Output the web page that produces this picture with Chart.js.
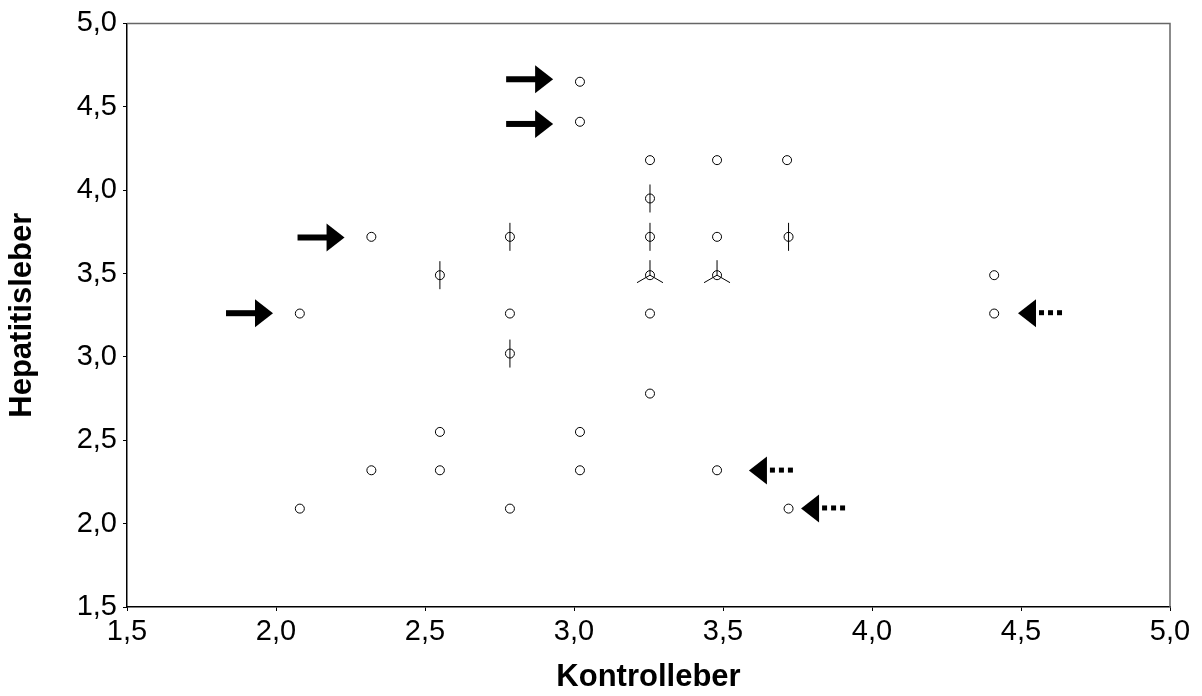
<!DOCTYPE html>
<html>
<head>
<meta charset="utf-8">
<script src="https://cdn.jsdelivr.net/npm/chart.js@4.4.1/dist/chart.umd.min.js"></script>
<style>
  html, body { margin: 0; padding: 0; background: #fff; }
  #wrap { width: 1202px; height: 696px; }
</style>
</head>
<body>
<div id="wrap"><canvas id="chart"></canvas></div>
<script>
// Kontrolleber (x), Hepatitisleber (y), number of cases at that point (sunflower petals)
const kontrolle = [3.02, 3.02, 3.255, 3.48, 3.715, 3.255, 2.32, 2.785, 3.255, 3.48, 3.72,
  2.55, 3.255, 3.48, 4.41, 2.08, 2.785, 3.255, 4.41, 2.785, 3.255, 2.55, 3.02,
  2.32, 2.55, 3.02, 3.48, 2.08, 2.785, 3.72];
const hepatitis = [4.65, 4.41, 4.18, 4.18, 4.18, 3.95, 3.72, 3.72, 3.72, 3.72, 3.72,
  3.49, 3.49, 3.49, 3.49, 3.26, 3.26, 3.26, 3.26, 3.02, 2.78, 2.55, 2.55,
  2.32, 2.32, 2.32, 2.32, 2.09, 2.09, 2.09];
const counts = [1, 1, 1, 1, 1, 2, 1, 2, 2, 1, 2,
  2, 3, 3, 1, 1, 1, 1, 1, 2, 1, 1, 1,
  1, 1, 1, 1, 1, 1, 1];

// annotation arrows: tip position, direction (solid right, dotted left)
const arrowX = [2.93, 2.93, 2.23, 1.99, 4.49, 3.587, 3.762];
const arrowY = [4.665, 4.397, 3.716, 3.262, 3.262, 2.318, 2.091];
const arrowDir = ['right', 'right', 'right', 'right', 'left', 'left', 'left'];

const tickValues = [1.5, 2.0, 2.5, 3.0, 3.5, 4.0, 4.5, 5.0];

const points = kontrolle.map((x, i) => ({ x: x, y: hepatitis[i] }));
const fmt = v => Number(v).toFixed(1).replace('.', ',');
const FONT = 'Liberation Sans, Arial, sans-serif';

const sunflowerPlugin = {
  id: 'sunflower',
  afterDatasetsDraw(chart) {
    const ctx = chart.ctx;
    const xs = chart.scales.x, ys = chart.scales.y;
    ctx.save();
    ctx.strokeStyle = '#000';
    ctx.lineWidth = 1;
    counts.forEach((n, i) => {
      if (n < 2) return;
      const cx = xs.getPixelForValue(kontrolle[i]);
      const cy = ys.getPixelForValue(hepatitis[i]);
      ctx.beginPath();
      if (n === 2) {
        ctx.moveTo(cx, cy - 14);
        ctx.lineTo(cx, cy + 14);
      } else {
        for (let k = 0; k < n; k++) {
          const a = -Math.PI / 2 + k * 2 * Math.PI / n;
          ctx.moveTo(cx, cy);
          ctx.lineTo(cx + 15 * Math.cos(a), cy + 15 * Math.sin(a));
        }
      }
      ctx.stroke();
    });
    ctx.restore();
  }
};

const framePlugin = {
  id: 'frame',
  beforeDatasetsDraw(chart) {
    const { ctx, chartArea: a } = chart;
    ctx.save();
    ctx.strokeStyle = '#666';
    ctx.lineWidth = 1.5;
    ctx.beginPath();
    ctx.moveTo(a.left, a.top);
    ctx.lineTo(a.right, a.top);
    ctx.lineTo(a.right, a.bottom);
    ctx.stroke();
    ctx.restore();
  }
};

const arrowPlugin = {
  id: 'arrows',
  afterDraw(chart) {
    const ctx = chart.ctx;
    const xs = chart.scales.x, ys = chart.scales.y;
    ctx.save();
    ctx.fillStyle = '#000';
    arrowX.forEach((v, i) => {
      const tx = xs.getPixelForValue(v);
      const ty = ys.getPixelForValue(arrowY[i]);
      const s = arrowDir[i] === 'right' ? -1 : 1;
      // head
      ctx.beginPath();
      ctx.moveTo(tx, ty);
      ctx.lineTo(tx + s * 18, ty - 14);
      ctx.lineTo(tx + s * 18, ty + 14);
      ctx.closePath();
      ctx.fill();
      if (arrowDir[i] === 'right') {
        ctx.fillRect(tx - 47, ty - 3, 30, 6);
      } else {
        for (let d = 0; d < 3; d++) {
          ctx.fillRect(tx + 21 + d * 9, ty - 3, 5, 5);
        }
      }
    });
    ctx.restore();
  }
};

new Chart(document.getElementById('chart'), {
  type: 'scatter',
  data: {
    datasets: [{
      data: points,
      pointRadius: 4.5,
      pointBorderWidth: 1,
      pointBorderColor: '#000',
      pointBackgroundColor: '#fff'
    }]
  },
  options: {
    responsive: true,
    maintainAspectRatio: false,
    animation: false,
    events: [],
    layout: { padding: { top: 21, right: 32, left: 0, bottom: 0 } },
    plugins: { legend: { display: false }, tooltip: { enabled: false } },
    scales: {
      x: {
        type: 'linear',
        min: 1.5, max: 5.0,
        afterBuildTicks: s => { s.ticks = tickValues.map(v => ({ value: v })); },
        afterFit: s => { s.height = 89; },
        border: { color: '#000', width: 1.5 },
        grid: { drawOnChartArea: false, drawTicks: true, tickLength: 4, color: '#000' },
        ticks: {
          callback: fmt, color: '#000', padding: 4, maxRotation: 0,
          font: { family: FONT, size: 29 }
        },
        title: {
          display: true, text: 'Kontrolleber', color: '#000',
          padding: { top: 0, bottom: 0 },
          font: { family: FONT, size: 31, weight: 'bold' }
        }
      },
      y: {
        type: 'linear',
        min: 1.5, max: 5.0,
        afterBuildTicks: s => { s.ticks = tickValues.map(v => ({ value: v })); },
        afterFit: s => { s.width = 127; },
        border: { color: '#000', width: 1.5 },
        grid: { drawOnChartArea: false, drawTicks: true, tickLength: 4, color: '#000' },
        ticks: {
          callback: fmt, color: '#000', padding: 6,
          font: { family: FONT, size: 29 }
        },
        title: {
          display: true, text: 'Hepatitisleber', color: '#000',
          padding: { top: 4, bottom: 0 },
          font: { family: FONT, size: 31, weight: 'bold' }
        }
      }
    }
  },
  plugins: [framePlugin, sunflowerPlugin, arrowPlugin]
});
</script>
</body>
</html>
